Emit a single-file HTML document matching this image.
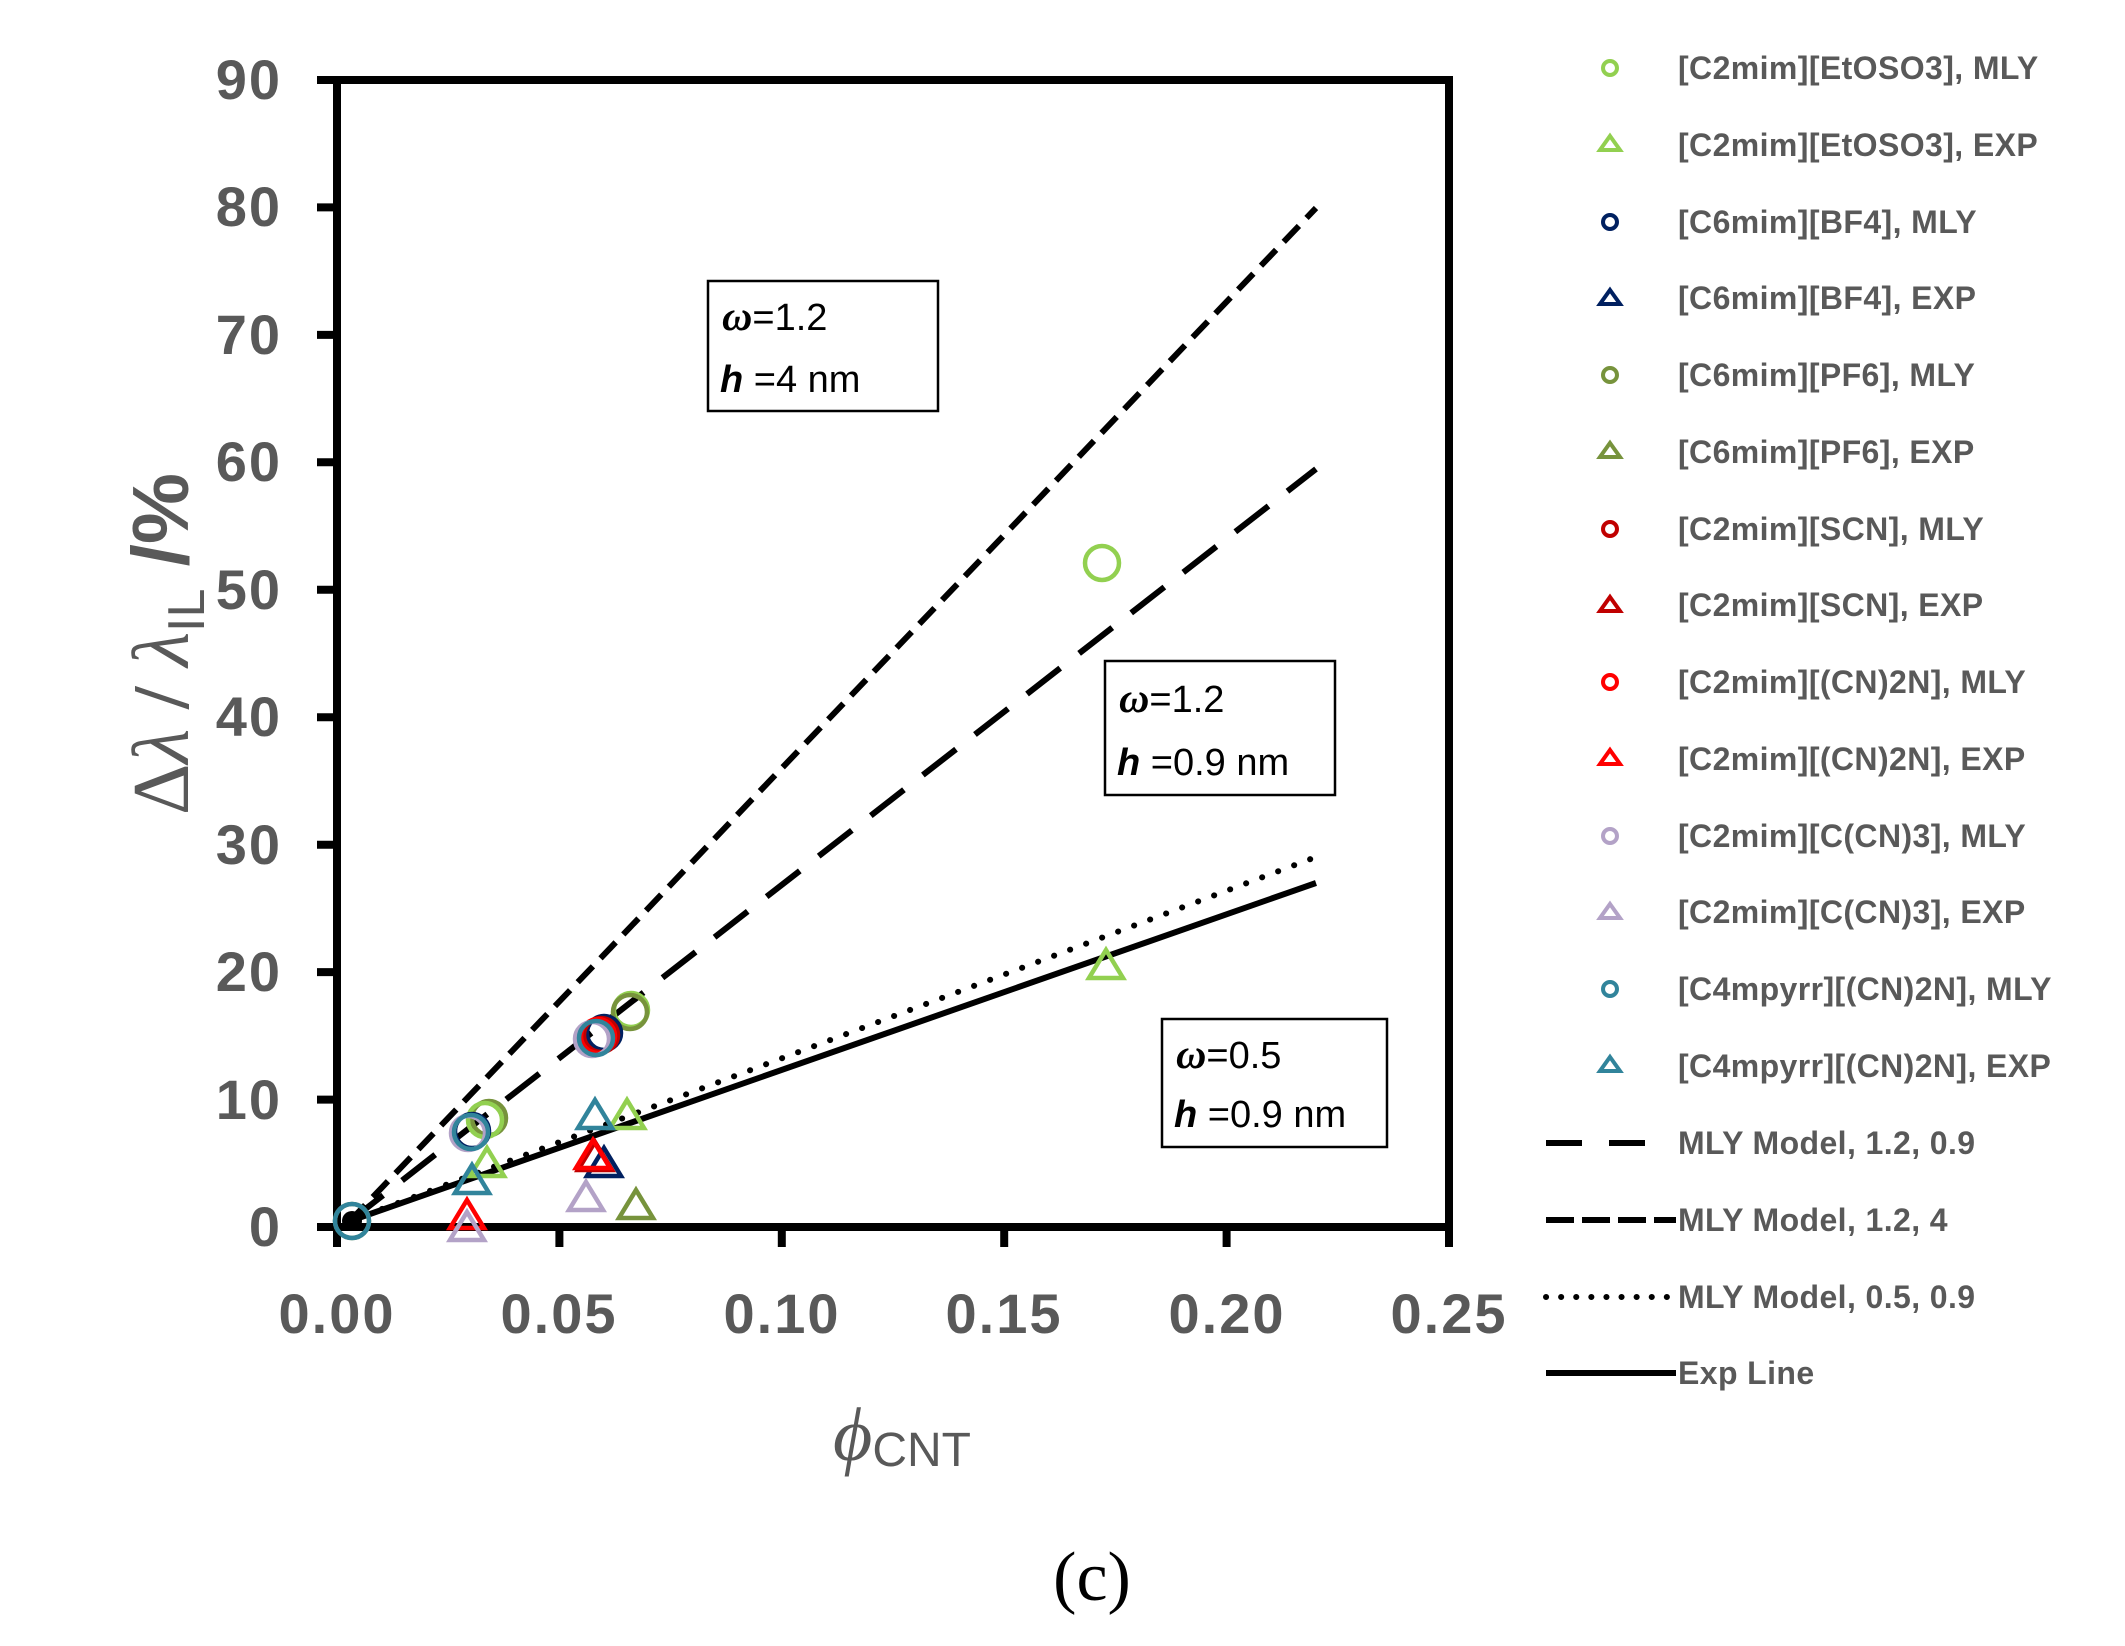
<!DOCTYPE html>
<html><head><meta charset="utf-8"><style>
html,body{margin:0;padding:0;background:#fff;}
svg{display:block;}
</style></head><body>
<svg width="2125" height="1646" viewBox="0 0 2125 1646" xmlns="http://www.w3.org/2000/svg">
<rect width="2125" height="1646" fill="#fff"/>
<g stroke="#000" fill="none" stroke-linecap="butt">
<line x1="350" y1="1221" x2="1316" y2="208" stroke-width="6" stroke-dasharray="22 11"/>
<line x1="350" y1="1221" x2="1316" y2="469" stroke-width="6" stroke-dasharray="42 24"/>
<line x1="350" y1="1221" x2="1316" y2="857" stroke-width="6" stroke-dasharray="0.1 17" stroke-linecap="round"/>
<line x1="350" y1="1221" x2="1316" y2="883" stroke-width="6"/>
</g>
<g stroke="#000" stroke-width="8" fill="none">
<rect x="337" y="80" width="1112" height="1147"/>
<line x1="317" y1="80" x2="337" y2="80"/>
<line x1="317" y1="207.4" x2="337" y2="207.4"/>
<line x1="317" y1="334.9" x2="337" y2="334.9"/>
<line x1="317" y1="462.3" x2="337" y2="462.3"/>
<line x1="317" y1="589.8" x2="337" y2="589.8"/>
<line x1="317" y1="717.2" x2="337" y2="717.2"/>
<line x1="317" y1="844.7" x2="337" y2="844.7"/>
<line x1="317" y1="972.1" x2="337" y2="972.1"/>
<line x1="317" y1="1099.6" x2="337" y2="1099.6"/>
<line x1="317" y1="1227" x2="337" y2="1227"/>
<line x1="337" y1="1227" x2="337" y2="1247"/>
<line x1="559.4" y1="1227" x2="559.4" y2="1247"/>
<line x1="781.8" y1="1227" x2="781.8" y2="1247"/>
<line x1="1004.2" y1="1227" x2="1004.2" y2="1247"/>
<line x1="1226.6" y1="1227" x2="1226.6" y2="1247"/>
<line x1="1449" y1="1227" x2="1449" y2="1247"/>
</g>
<g font-family="Liberation Sans, sans-serif" font-weight="bold" font-size="56" fill="#595959" text-anchor="end" letter-spacing="2">
<text x="282" y="99">90</text>
<text x="282" y="226">80</text>
<text x="282" y="354">70</text>
<text x="282" y="481">60</text>
<text x="282" y="609">50</text>
<text x="282" y="736">40</text>
<text x="282" y="864">30</text>
<text x="282" y="991">20</text>
<text x="282" y="1119">10</text>
<text x="282" y="1246">0</text>
</g>
<g font-family="Liberation Sans, sans-serif" font-weight="bold" font-size="56" fill="#595959" text-anchor="middle" letter-spacing="2">
<text x="337" y="1333">0.00</text>
<text x="559" y="1333">0.05</text>
<text x="782" y="1333">0.10</text>
<text x="1004" y="1333">0.15</text>
<text x="1227" y="1333">0.20</text>
<text x="1449" y="1333">0.25</text>
</g>
<text transform="translate(188,644) rotate(-90)" text-anchor="middle" font-family="Liberation Serif, serif" font-size="80" fill="#595959">Δ<tspan font-style="italic">λ</tspan> <tspan font-weight="bold">/</tspan> <tspan font-style="italic">λ</tspan><tspan font-family="Liberation Sans, sans-serif" font-size="52" dy="16">IL</tspan><tspan dy="-16" font-family="Liberation Sans, sans-serif" font-weight="bold"> /%</tspan></text>
<text x="833" y="1460" font-family="Liberation Serif, serif" font-style="italic" font-size="76" fill="#595959">ϕ<tspan font-family="Liberation Sans, sans-serif" font-style="normal" font-size="48" dy="6">CNT</tspan></text>
<text x="1092" y="1600" text-anchor="middle" font-family="Liberation Serif, serif" font-size="70" fill="#000">(c)</text>
<g fill="#fff" stroke="#000" stroke-width="2.5">
<rect x="708" y="281" width="230" height="130"/>
<rect x="1105" y="661" width="230" height="134"/>
<rect x="1162" y="1019" width="225" height="128"/>
</g>
<g font-family="Liberation Sans, sans-serif" font-size="38" fill="#000">
<text x="722" y="330"><tspan font-family="Liberation Serif, serif" font-style="italic" font-weight="bold" font-size="42">ω</tspan>=1.2</text>
<text x="720" y="392"><tspan font-style="italic" font-weight="bold">h</tspan> =4 nm</text>
<text x="1119" y="712"><tspan font-family="Liberation Serif, serif" font-style="italic" font-weight="bold" font-size="42">ω</tspan>=1.2</text>
<text x="1117" y="775"><tspan font-style="italic" font-weight="bold">h</tspan> =0.9 nm</text>
<text x="1176" y="1068"><tspan font-family="Liberation Serif, serif" font-style="italic" font-weight="bold" font-size="42">ω</tspan>=0.5</text>
<text x="1174" y="1127"><tspan font-style="italic" font-weight="bold">h</tspan> =0.9 nm</text>
</g>
<g fill="none" stroke-width="4.5">
<path d="M1106,950 l17,28 h-34 z" stroke="#92d050"/>
<path d="M627,1100 l17,28 h-34 z" stroke="#92d050"/>
<path d="M487,1148 l17,28 h-34 z" stroke="#92d050"/>
<path d="M595,1100 l17,28 h-34 z" stroke="#31849b"/>
<path d="M472,1165 l17,28 h-34 z" stroke="#31849b"/>
<path d="M467,1200 l17,28 h-34 z" stroke="#ff0000"/>
<path d="M467,1212 l17,28 h-34 z" stroke="#b3a2c7"/>
<path d="M604,1148 l17,28 h-34 z" stroke="#002060"/>
<path d="M595,1142 l17,28 h-34 z" stroke="#c00000"/>
<path d="M593,1140 l17,28 h-34 z" stroke="#ff0000"/>
<path d="M586,1182 l17,28 h-34 z" stroke="#b3a2c7"/>
<path d="M636,1190 l17,28 h-34 z" stroke="#77933c"/>
<circle cx="1102" cy="563" r="17" stroke="#92d050"/>
<circle cx="631" cy="1010" r="17" stroke="#92d050"/>
<circle cx="630" cy="1012" r="17" stroke="#77933c"/>
<circle cx="489" cy="1118" r="17" stroke="#77933c"/>
<circle cx="485" cy="1120" r="17" stroke="#92d050"/>
<circle cx="604" cy="1033" r="17" stroke="#002060"/>
<circle cx="601" cy="1035" r="17" stroke="#c00000"/>
<circle cx="598" cy="1036" r="17" stroke="#ff0000"/>
<circle cx="592" cy="1039" r="17" stroke="#b3a2c7"/>
<circle cx="596" cy="1038" r="17" stroke="#31849b"/>
<circle cx="472" cy="1131" r="17" stroke="#002060"/>
<circle cx="468" cy="1133" r="17" stroke="#b3a2c7"/>
<circle cx="471" cy="1132" r="17" stroke="#31849b"/>
<circle cx="352" cy="1221" r="17" stroke="#77933c"/>
<circle cx="352" cy="1221" r="17" stroke="#31849b"/>
</g>
<circle cx="352" cy="1221" r="10" fill="#000"/>
<g fill="none" stroke-width="4">
<circle cx="1610" cy="68" r="7" stroke="#92d050"/>
<path d="M1610,136 l10,14 h-20 z" stroke="#92d050"/>
<circle cx="1610" cy="222" r="7" stroke="#002060"/>
<path d="M1610,290 l10,14 h-20 z" stroke="#002060"/>
<circle cx="1610" cy="375" r="7" stroke="#77933c"/>
<path d="M1610,443 l10,14 h-20 z" stroke="#77933c"/>
<circle cx="1610" cy="529" r="7" stroke="#c00000"/>
<path d="M1610,597 l10,14 h-20 z" stroke="#c00000"/>
<circle cx="1610" cy="682" r="7" stroke="#ff0000"/>
<path d="M1610,750 l10,14 h-20 z" stroke="#ff0000"/>
<circle cx="1610" cy="836" r="7" stroke="#b3a2c7"/>
<path d="M1610,904 l10,14 h-20 z" stroke="#b3a2c7"/>
<circle cx="1610" cy="989" r="7" stroke="#31849b"/>
<path d="M1610,1057 l10,14 h-20 z" stroke="#31849b"/>
</g>
<g stroke="#000" stroke-width="6">
<line x1="1546" y1="1143" x2="1670" y2="1143" stroke-dasharray="36 27"/>
<line x1="1546" y1="1220" x2="1676" y2="1220" stroke-dasharray="28 8"/>
<line x1="1546" y1="1297" x2="1670" y2="1297" stroke-dasharray="0.1 15" stroke-linecap="round"/>
<line x1="1546" y1="1373" x2="1676" y2="1373"/>
</g>
<g font-family="Liberation Sans, sans-serif" font-weight="bold" font-size="32" fill="#595959" letter-spacing="0.4">
<text x="1678" y="79">[C2mim][EtOSO3], MLY</text>
<text x="1678" y="156">[C2mim][EtOSO3], EXP</text>
<text x="1678" y="233">[C6mim][BF4], MLY</text>
<text x="1678" y="309">[C6mim][BF4], EXP</text>
<text x="1678" y="386">[C6mim][PF6], MLY</text>
<text x="1678" y="463">[C6mim][PF6], EXP</text>
<text x="1678" y="540">[C2mim][SCN], MLY</text>
<text x="1678" y="616">[C2mim][SCN], EXP</text>
<text x="1678" y="693">[C2mim][(CN)2N], MLY</text>
<text x="1678" y="770">[C2mim][(CN)2N], EXP</text>
<text x="1678" y="847">[C2mim][C(CN)3], MLY</text>
<text x="1678" y="923">[C2mim][C(CN)3], EXP</text>
<text x="1678" y="1000">[C4mpyrr][(CN)2N], MLY</text>
<text x="1678" y="1077">[C4mpyrr][(CN)2N], EXP</text>
<text x="1678" y="1154">MLY Model, 1.2, 0.9</text>
<text x="1678" y="1231">MLY Model, 1.2, 4</text>
<text x="1678" y="1308">MLY Model, 0.5, 0.9</text>
<text x="1678" y="1384">Exp Line</text>
</g>
</svg>
</body></html>
